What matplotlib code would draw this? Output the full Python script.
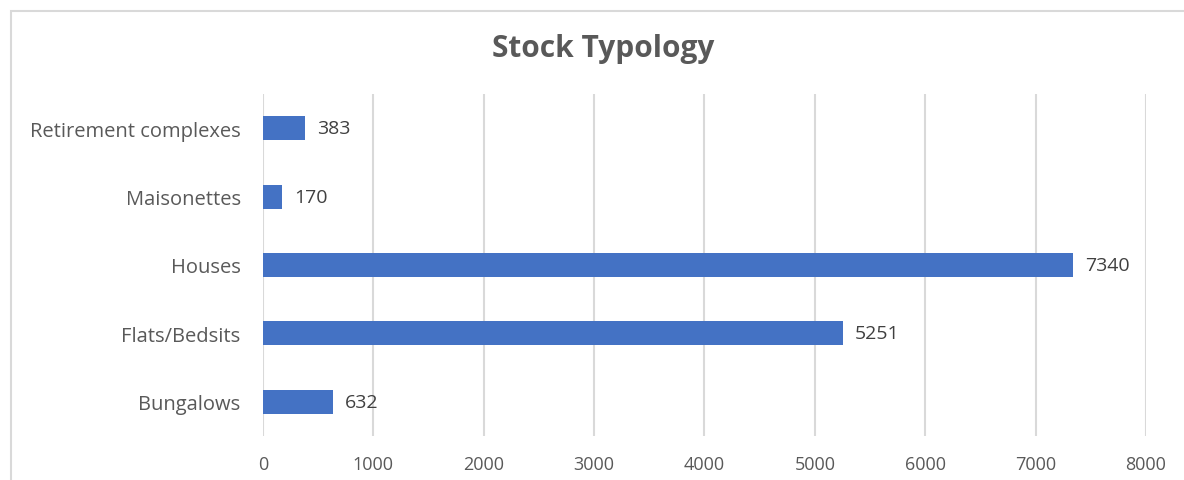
import matplotlib.pyplot as plt
from matplotlib.patches import Rectangle

categories = ['Bungalows', 'Flats/Bedsits', 'Houses', 'Maisonettes', 'Retirement complexes']
values = [632, 5251, 7340, 170, 383]
xticks = [0, 1000, 2000, 3000, 4000, 5000, 6000, 7000, 8000]

plt.rcParams['font.family'] = ['Open Sans', 'DejaVu Sans']

fig = plt.figure(figsize=(11.84, 4.81), dpi=100)
ax = fig.add_axes([0.2221, 0.0915, 0.7458, 0.711])

pos = range(len(categories))
ax.barh(pos, values, height=0.35, color='#4472C4', zorder=3)
for p, v in zip(pos, values):
    ax.text(v + 110, p, str(v), va='center', ha='left', fontsize=14, color='#404040')

ax.set_xlim(0, 8000)
ax.set_ylim(-0.5, len(categories) - 0.5)
ax.set_xticks(xticks)
ax.set_xticklabels([str(t) for t in xticks])
ax.set_yticks(list(pos))
ax.set_yticklabels(categories)
ax.tick_params(axis='x', length=0, labelsize=13, colors='#595959', pad=14)
ax.tick_params(axis='y', length=0, labelsize=14.5, colors='#595959', pad=16)
ax.grid(axis='x', color='#D9D9D9', linewidth=1.5, zorder=0)
for s in ax.spines.values():
    s.set_visible(False)

fig.text(603 / 1184, 1 - 49 / 481, 'Stock Typology', ha='center', va='center',
         fontsize=21.5, fontweight='bold', color='#595959')

# chart border
fig.patches.append(Rectangle((11 / 1184, -0.05), 1.1, 1 - 12 / 481 + 0.05,
                             transform=fig.transFigure, fill=False,
                             edgecolor='#D9D9D9', linewidth=1.5))

fig.savefig('out.png', dpi=100)
